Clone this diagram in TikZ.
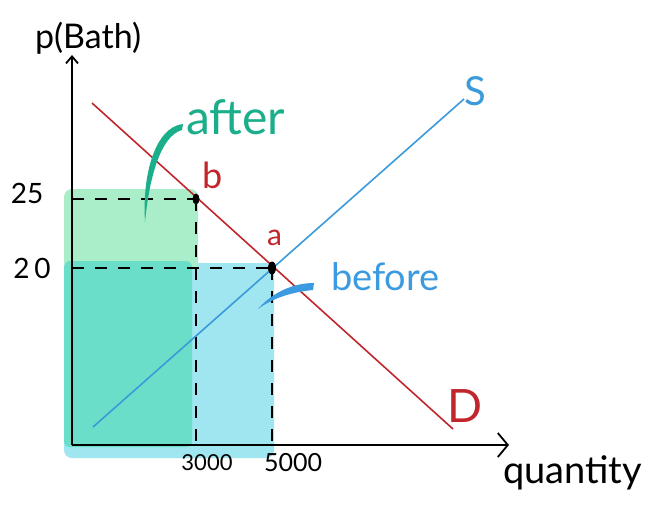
\documentclass[tikz,border=0pt]{standalone}
\usepackage{fontspec}
\setmainfont{Lato}
\usetikzlibrary{arrows.meta}
\definecolor{redline}{HTML}{C0262B}
\definecolor{blueline}{HTML}{3B9AD9}
\definecolor{aftercol}{HTML}{1AAE8A}
\definecolor{beforecol}{HTML}{3C9BE0}
\definecolor{greenfill}{HTML}{A9EEC9}
\definecolor{tealfill}{HTML}{6BDEC9}
\definecolor{cyanfill}{HTML}{9FE6F0}
\tikzset{
  axis/.style={black, line width=1.8pt},
  guide/.style={black, line width=2.2pt, dash pattern=on 12pt off 11pt},
  demand/.style={redline, line width=1.6pt},
  supply/.style={blueline, line width=1.6pt},
  lbl/.style={inner sep=0pt, outer sep=0pt},
}
\begin{document}
\begin{tikzpicture}[x=1pt,y=-1pt]
\useasboundingbox (0,0) rectangle (650,512);
% coordinates
\coordinate (O) at (72,445);
\coordinate (ytop) at (72,55);
\coordinate (xend) at (509,445);
\coordinate (b) at (196,199);
\coordinate (a) at (272,268);
\coordinate (b25) at (72,199);
\coordinate (a20) at (72,268);
\coordinate (bq) at (196,445);
\coordinate (aq) at (272,445);
\coordinate (d1) at (92,103);
\coordinate (d2) at (453,429);
\coordinate (s1) at (93,427);
\coordinate (s2) at (464,99);
% fills
\fill[cyanfill, rounded corners=8pt] (64,263) rectangle (274,458);
\fill[greenfill, rounded corners=8pt] (64,189) rectangle (198,270);
\fill[tealfill, rounded corners=6pt] (64,261) rectangle (192,447);
% axes
\draw[axis, -{Straight Barb[length=7pt,width=12pt]}] (O) -- (ytop);
\draw[axis, -{Straight Barb[length=10pt,width=24pt]}] (O) -- (xend);
% guides
\draw[guide] (b25) -- (b);
\draw[guide] (a20) -- (a);
\draw[guide] (b) -- (bq);
\draw[guide] (a) -- (aq);
% curves
\draw[demand] (d1) -- (d2);
\draw[supply] (s1) -- (s2);
% dots
\fill (b) ellipse (3.5pt and 5.5pt);
\fill (a) ellipse (4pt and 6.5pt);
% strokes
\fill[aftercol] (183,124) .. controls (155,127) and (142,175) .. (145,222)
   .. controls (149,180) and (160,136) .. (182,130) -- cycle;
\fill[beforecol] (314,283) .. controls (290,283) and (270,295) .. (258,309)
   .. controls (273,298) and (292,292) .. (313,290) -- cycle;
% labels
\node[lbl, anchor=base west, font=\fontsize{34}{40}\selectfont] (py) at (35,48) {p(Bath)};
\node[lbl, font=\fontsize{28}{32}\selectfont] (l25) at (27,193) {25};
\node[lbl, font=\fontsize{28}{32}\selectfont] (l20) at (32,268) {2\hspace{5pt}0};
\node[lbl, font=\fontsize{22}{26}\selectfont] (l3000) at (207,463) {3000};
\node[lbl, font=\fontsize{25}{28}\selectfont] (l5000) at (293,463) {5000};
\node[lbl, anchor=base west, font=\fontsize{38}{44}\selectfont] (qx) at (503,483) {quantity};
\node[lbl, text=blueline, font=\fontsize{40}{44}\selectfont] (S) at (475,91) {S};
\node[lbl, text=redline, font=\fontsize{46}{50}\selectfont] (D) at (465,406) {D};
\node[lbl, anchor=base west, text=redline, font=\fontsize{30}{34}\selectfont] (la) at (267,245) {a};
\node[lbl, anchor=base west, text=redline, font=\fontsize{36}{40}\selectfont] (lb) at (202,188) {b};
\node[lbl, anchor=base west, text=aftercol, font=\fontsize{48}{52}\selectfont] (after) at (186,134) {after};
\node[lbl, anchor=base west, text=beforecol, font=\fontsize{38}{42}\selectfont] (before) at (331,290) {before};
\end{tikzpicture}
\end{document}
